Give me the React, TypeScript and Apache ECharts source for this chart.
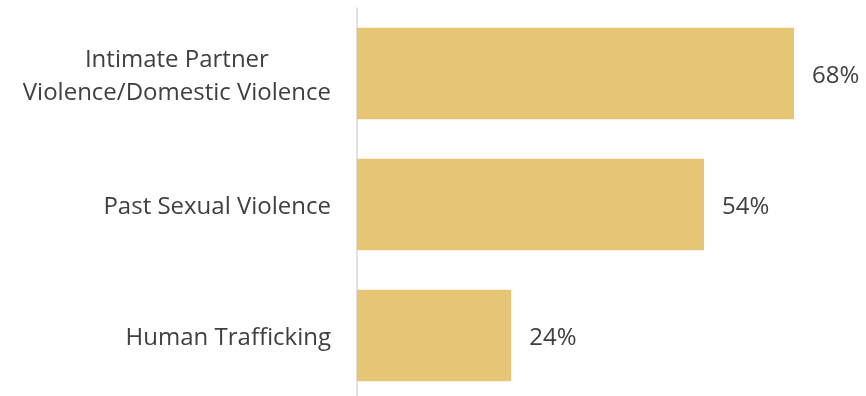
import React, { useEffect, useRef } from "react";
import * as echarts from "echarts";

const categories = [
  "Intimate Partner\nViolence/Domestic Violence",
  "Past Sexual Violence",
  "Human Trafficking",
];
const values = [68, 54, 24];

export default function App() {
  const ref = useRef<HTMLDivElement>(null);
  useEffect(() => {
    document.body.style.margin = "0";
    const chart = echarts.init(ref.current!, null, { renderer: "svg" });
    chart.setOption({
      animation: false,
      grid: { left: 357, top: 8, width: 482, height: 393, containLabel: false },
      xAxis: {
        type: "value",
        min: 0,
        max: 75,
        show: false,
      },
      yAxis: {
        type: "category",
        data: categories,
        inverse: true,
        axisLine: { show: true, lineStyle: { color: "#D9D9D9", width: 1.5 } },
        axisTick: { show: false },
        axisLabel: {
          color: "#404040",
          fontSize: 24,
          fontFamily: "Open Sans",
          margin: 26,
          lineHeight: 33,
          align: "right",
          formatter: (v: string) =>
            v
              .split("\n")
              .map((s) => "{a|" + s + "}")
              .join("\n"),
          rich: {
            a: {
              align: "center",
              color: "#404040",
              fontSize: 24,
              fontFamily: "Open Sans",
              lineHeight: 33,
            },
          },
        },
      },
      series: [
        {
          type: "bar",
          data: values,
          barCategoryGap: "30%",
          itemStyle: { color: "#E6C574" },
          label: {
            show: true,
            position: "right",
            distance: 18,
            formatter: "{c}%",
            color: "#404040",
            fontSize: 24,
            fontFamily: "Open Sans",
          },
        },
      ],
    });
    return () => chart.dispose();
  }, []);
  return (
    <div
      ref={ref}
      style={{ position: "fixed", left: 0, top: 0, width: 866, height: 410 }}
    />
  );
}
